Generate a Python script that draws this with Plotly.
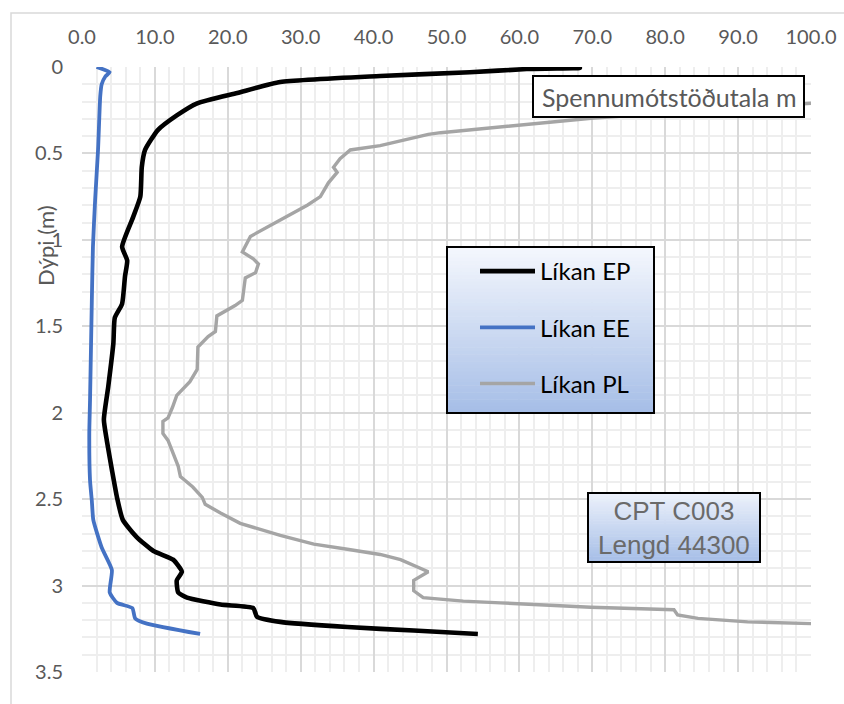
import plotly.graph_objects as go

# Depth profiles (x value, depth in m) for each model
ep_x = [61.5, 68.3, 61.0, 53.2, 40.9, 27.2, 21.3, 15.8, 13.0, 10.4, 8.65, 8.2, 8.0, 7.0, 5.5,
        6.2, 5.9, 5.5, 4.5, 4.3, 3.6, 3.0, 3.4, 4.1, 4.8, 5.6, 7.5, 9.8, 12.5, 13.7, 13.0,
        13.2, 14.4, 19.0, 23.5, 24.0, 27.2, 36.4, 45.5, 54.3]
ep_d = [0.000, 0.006, 0.012, 0.030, 0.052, 0.087, 0.150, 0.210, 0.280, 0.365, 0.480, 0.580,
        0.750, 0.870, 1.040, 1.120, 1.210, 1.370, 1.450, 1.600, 1.850, 2.040, 2.160, 2.330,
        2.490, 2.620, 2.720, 2.800, 2.850, 2.920, 2.970, 3.040, 3.070, 3.110, 3.130, 3.180,
        3.210, 3.240, 3.260, 3.280]

ee_x = [2.0, 3.8, 3.2, 2.7, 2.5, 2.2, 1.8, 1.5, 1.35, 1.1, 1.0, 1.1, 1.35, 1.55, 2.7, 4.1,
        3.8, 4.8, 6.9, 7.3, 8.9, 16.2]
ee_d = [0.000, 0.030, 0.055, 0.100, 0.170, 0.480, 0.770, 1.040, 1.350, 1.930, 2.120, 2.390,
        2.510, 2.620, 2.780, 2.910, 3.040, 3.100, 3.130, 3.190, 3.220, 3.280]

pl_x = [100.0, 70.2, 49.2, 47.5, 40.9, 36.8, 35.4, 34.5, 35.0, 33.8, 32.7, 30.9, 27.2, 23.1,
        22.0, 23.5, 24.2, 23.8, 22.4, 22.0, 21.0, 18.5, 18.3, 17.3, 15.9, 15.8, 14.8, 13.0,
        12.4, 11.8, 11.1, 11.1, 11.8, 12.5, 13.2, 13.5, 15.2, 16.5, 16.9, 19.0, 21.7, 27.2,
        31.8, 36.4, 40.9, 43.7, 47.5, 45.5, 45.5, 46.8, 52.3, 57.4, 69.8, 81.2, 81.7, 84.5,
        91.3, 100.0]
pl_d = [0.210, 0.295, 0.380, 0.390, 0.455, 0.480, 0.530, 0.580, 0.610, 0.670, 0.750, 0.800,
        0.885, 0.980, 1.070, 1.110, 1.140, 1.190, 1.220, 1.350, 1.380, 1.440, 1.530, 1.560,
        1.620, 1.750, 1.820, 1.900, 1.970, 2.030, 2.050, 2.120, 2.160, 2.240, 2.310, 2.370,
        2.430, 2.490, 2.530, 2.580, 2.640, 2.710, 2.760, 2.790, 2.820, 2.850, 2.920, 2.970,
        3.030, 3.070, 3.090, 3.100, 3.125, 3.140, 3.170, 3.190, 3.210, 3.220]

series_names = ["Líkan EP", "Líkan EE", "Líkan PL"]
series_colors = ["#000000", "#4472c4", "#a5a5a5"]

x_tick_vals = [0, 10, 20, 30, 40, 50, 60, 70, 80, 90, 100]
y_tick_vals = [0, 0.5, 1, 1.5, 2, 2.5, 3, 3.5]

title_text = "Spennumótstöðutala m"
info_text = "CPT C003<br>Lengd 44300"
y_title = "Dýpi (m)"

W, H = 844, 704
L, R, T, B = 82, 33, 67, 32
PW, PH = W - L - R, H - T - B


def px_x(p):
    return (p - L) / PW


def px_y(p):
    return (H - B - p) / PH


FONT = "Lato, Open Sans, sans-serif"
GREY_TXT = "#595959"

fig = go.Figure()
for name, xs, ds, col, w, shp in [
    (series_names[0], ep_x, ep_d, series_colors[0], 4.6, "spline"),
    (series_names[1], ee_x, ee_d, series_colors[1], 3.8, "spline"),
    (series_names[2], pl_x, pl_d, series_colors[2], 3.4, "linear"),
]:
    fig.add_trace(go.Scatter(
        x=xs, y=ds, mode="lines", name=name, legendgroup=name,
        line=dict(color=col, width=w, shape=shp, smoothing=0.5),
    ))

shapes = []
# outer chart border
shapes.append(dict(type="rect", xref="paper", yref="paper",
                   x0=px_x(11), x1=px_x(W + 6), y0=px_y(H + 6), y1=px_y(13),
                   line=dict(color="#d9d9d9", width=1.5), fillcolor="rgba(0,0,0,0)",
                   layer="below"))


def gradient_box(x0p, y0p, x1p, y1p, top, bot, n=48):
    out = []
    for i in range(n):
        t = i / (n - 1)
        c = tuple(round(top[k] + (bot[k] - top[k]) * t) for k in range(3))
        ya = y0p + (y1p - y0p) * i / n
        yb = y0p + (y1p - y0p) * (i + 1) / n + 0.5
        out.append(dict(type="rect", xref="paper", yref="paper",
                        x0=px_x(x0p), x1=px_x(x1p), y0=px_y(min(yb, y1p)), y1=px_y(ya),
                        line=dict(width=0), fillcolor="rgb(%d,%d,%d)" % c, layer="above"))
    out.append(dict(type="rect", xref="paper", yref="paper",
                    x0=px_x(x0p), x1=px_x(x1p), y0=px_y(y1p), y1=px_y(y0p),
                    line=dict(color="#000000", width=2), fillcolor="rgba(0,0,0,0)",
                    layer="above"))
    return out


# legend panel
shapes += gradient_box(447, 247, 654, 413, (244, 247, 253), (166, 190, 231))
# info panel
shapes += gradient_box(588, 493, 760, 562, (236, 241, 251), (166, 190, 231))
# title box
shapes.append(dict(type="rect", xref="paper", yref="paper",
                   x0=px_x(533), x1=px_x(804), y0=px_y(117), y1=px_y(76),
                   line=dict(color="#000000", width=2), fillcolor="#ffffff", layer="above"))

annotations = [
    dict(text=title_text, x=px_x(668.5), y=px_y(97), xref="paper", yref="paper",
         showarrow=False, font=dict(family=FONT, size=25, color=GREY_TXT),
         xanchor="center", yanchor="middle"),
    dict(text=info_text, x=px_x(674), y=px_y(527.5), xref="paper", yref="paper",
         showarrow=False, font=dict(family="Liberation Sans, Arial, sans-serif", size=26,
                                    color="#6a6a6a"),
         xanchor="center", yanchor="middle"),
    dict(text=y_title, x=px_x(46), y=px_y(246), xref="paper", yref="paper",
         showarrow=False, textangle=-90, font=dict(family=FONT, size=22, color=GREY_TXT),
         xanchor="center", yanchor="middle"),
]

fig.update_layout(
    width=W, height=H,
    margin=dict(l=L, r=R, t=T, b=B, autoexpand=False),
    paper_bgcolor="#ffffff", plot_bgcolor="#ffffff",
    showlegend=True,
    legend=dict(x=px_x(475), y=px_y(249), xanchor="left", yanchor="top",
                bgcolor="rgba(0,0,0,0)", borderwidth=0,
                font=dict(family=FONT, size=24, color="#000000"),
                traceorder="grouped", tracegroupgap=22, itemwidth=55),
    shapes=shapes,
    annotations=annotations,
    xaxis=dict(range=[0, 100], side="top", tickvals=x_tick_vals, tickformat=".1f",
               showgrid=True, gridcolor="#d9d9d9", gridwidth=1.5,
               minor=dict(dtick=2, showgrid=True, gridcolor="#eeeeee", gridwidth=1.5),
               zeroline=False, showline=False, ticks="", ticklabelstandoff=18,
               tickfont=dict(family=FONT, size=20, color=GREY_TXT)),
    yaxis=dict(range=[3.5, 0], tickvals=y_tick_vals,
               showgrid=True, gridcolor="#d9d9d9", gridwidth=1.5,
               minor=dict(dtick=0.1, showgrid=True, gridcolor="#eeeeee", gridwidth=1.5),
               zeroline=False, showline=False, ticks="", ticklabelstandoff=18,
               tickfont=dict(family=FONT, size=20, color=GREY_TXT)),
)

fig.write_html("out.html")
